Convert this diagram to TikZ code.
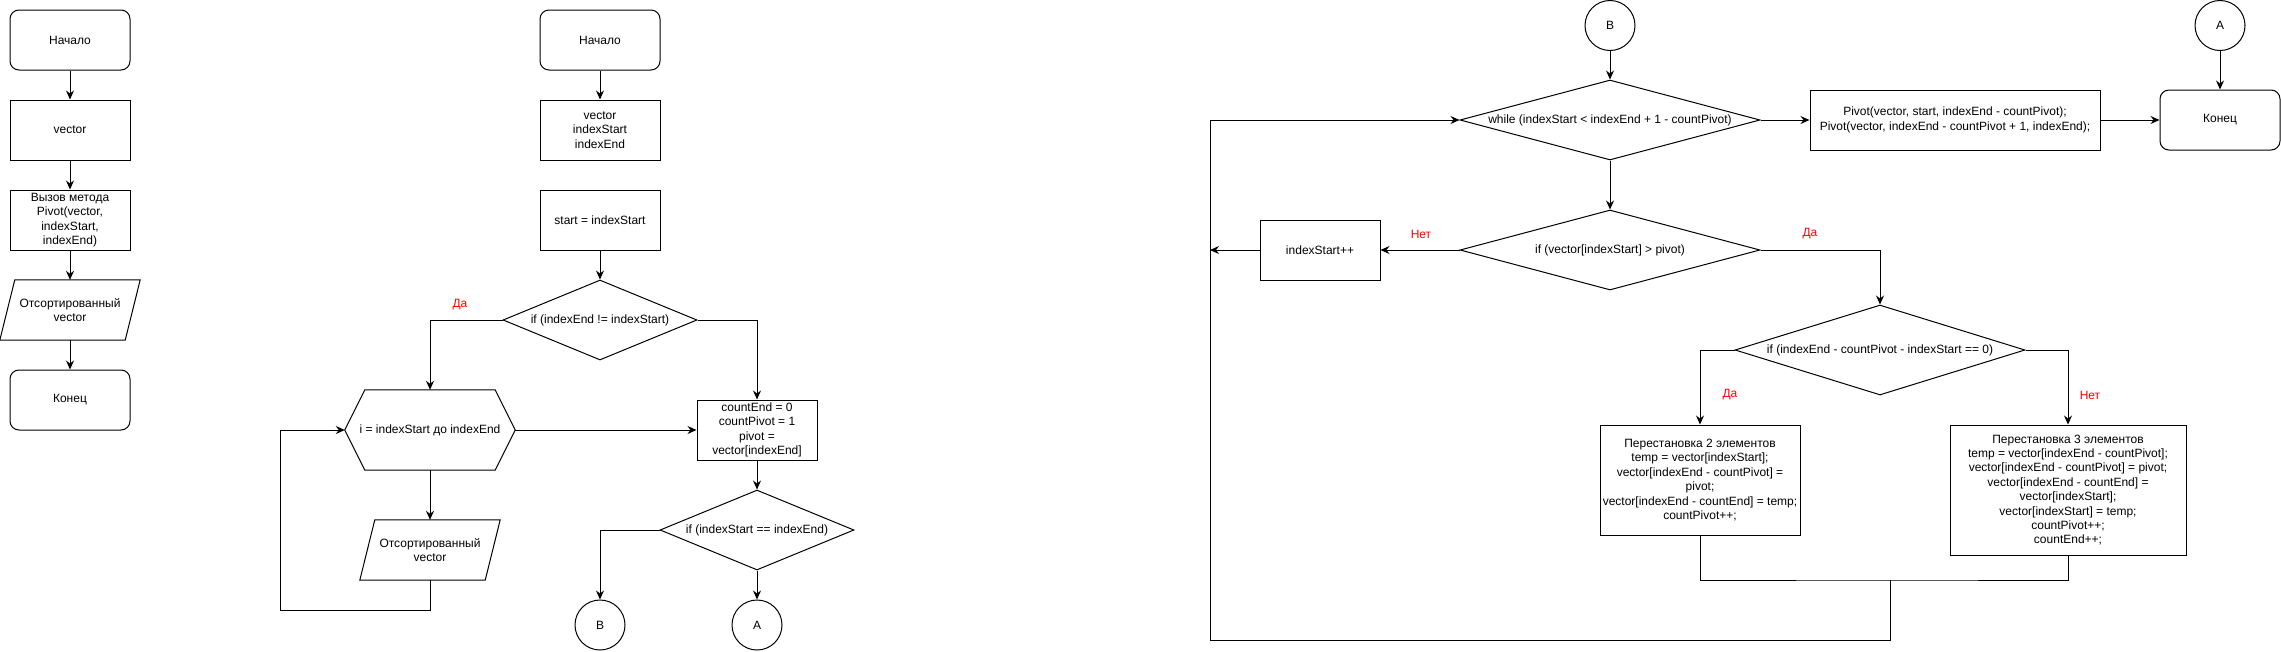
\documentclass[tikz,border=0pt]{standalone}
\usepackage{fontspec}
\setmainfont{Liberation Sans}
\usetikzlibrary{shapes.geometric,arrows.meta,calc}
\begin{document}
\begin{tikzpicture}[x=1pt,y=-1pt,
  every node/.style={font=\fontsize{12}{14.4}\selectfont, inner sep=0pt, align=center},
  term/.style={draw, rounded corners=9pt, minimum width=120pt, minimum height=60pt, line width=1pt},
  proc/.style={draw, minimum height=60pt, line width=1pt},
  dia/.style={draw, diamond, line width=1pt},
  conn/.style={draw, circle, minimum size=50pt, line width=1pt},
  frame/.style={minimum width=140pt, minimum height=60pt},
  arr/.style={-{Stealth[length=9pt,width=8pt,inset=3pt]}, line width=1pt},
  ln/.style={line width=1pt},
  yes/.style={text=red},
]
\useasboundingbox (0,0) rectangle (2281,651);

% ---------- left column ----------
\node[term] (s1) at (70,40) {Начало};
\node[proc, minimum width=120pt] (v1) at (70,130) {vector};
\node[proc, minimum width=120pt] (c1) at (70,220) {Вызов метода\\Pivot(vector,\\indexStart,\\indexEnd)};
\node[frame] (p1) at (70,310) {Отсортированный\\vector};
\draw[ln] ([xshift=15pt]p1.north west) -- (p1.north east) -- ([xshift=-15pt]p1.south east) -- (p1.south west) -- cycle;
\node[term] (e1) at (70,400) {Конец};

\draw[arr] (s1) -- (v1);
\draw[arr] (v1) -- (c1);
\draw[arr] (c1) -- (p1);
\draw[arr] (p1) -- (e1);

% ---------- middle column ----------
\node[term] (s2) at (600,40) {Начало};
\node[proc, minimum width=120pt] (v2) at (600,130) {vector\\indexStart\\indexEnd};
\node[proc, minimum width=120pt] (st) at (600,220) {start = indexStart};
\node[dia, minimum width=194pt, minimum height=80pt] (d1) at (600,320) {};
\node (d1t) at (d1) {if (indexEnd != indexStart)};
\node[minimum width=170pt, minimum height=80pt] (hx) at (430,430) {i = indexStart до indexEnd};
\draw[ln] (hx.west) -- ([xshift=20pt]hx.north west) -- ([xshift=-20pt]hx.north east) -- (hx.east) -- ([xshift=-20pt]hx.south east) -- ([xshift=20pt]hx.south west) -- cycle;
\node[frame] (p2) at (430,550) {Отсортированный\\vector};
\draw[ln] ([xshift=15pt]p2.north west) -- (p2.north east) -- ([xshift=-15pt]p2.south east) -- (p2.south west) -- cycle;
\node[proc, minimum width=120pt] (ce) at (757,430) {countEnd = 0\\countPivot = 1\\pivot =\\vector[indexEnd]};
\node[dia, minimum width=194pt, minimum height=80pt] (d2) at (757,530) {};
\node (d2t) at (d2) {if (indexStart == indexEnd)};
\node[conn] (cb) at (600,625) {B};
\node[conn] (ca) at (757,625) {A};
\node[yes] (l1) at (460,305) {Да};

\coordinate (lp) at (280,610);
\draw[arr] (s2) -- (v2);
\draw[arr] (st) -- (d1);
\draw[arr] (d1.west) -| (hx.north);
\draw[arr] (d1.east) -| (ce.north);
\draw[arr] (hx.south) -- (p2.north);
\draw[arr] (p2.south) |- (lp) |- (hx.west);
\draw[arr] (hx.east) -- (ce.west);
\draw[arr] (ce) -- (d2);
\draw[arr] (d2.west) -| (cb.north);
\draw[arr] (d2) -- (ca);

% ---------- right part ----------
\node[conn] (cb2) at (1610,25.5) {B};
\node[dia, minimum width=300pt, minimum height=80pt] (wh) at (1610,120) {};
\node (wht) at (wh) {while (indexStart < indexEnd + 1 - countPivot)};
\node[proc, minimum width=290pt] (pv) at (1955,120) {Pivot(vector, start, indexEnd - countPivot);\\Pivot(vector, indexEnd - countPivot + 1, indexEnd);};
\node[term] (e2) at (2220,120) {Конец};
\node[conn] (ca2) at (2220,25.5) {A};
\node[dia, minimum width=300pt, minimum height=80pt] (if1) at (1610,250) {};
\node (if1t) at (if1) {if (vector[indexStart] > pivot)};
\node[proc, minimum width=120pt] (inc) at (1320,250) {indexStart++};
\node[dia, minimum width=290pt, minimum height=90pt] (d3) at (1880,350) {};
\node (d3t) at (d3) {if (indexEnd - countPivot - indexStart == 0)};
\node[draw, line width=1pt, minimum width=200pt, minimum height=110pt] (b2) at (1700,480) {Перестановка 2 элементов\\temp = vector[indexStart];\\vector[indexEnd - countPivot] =\\pivot;\\vector[indexEnd - countEnd] = temp;\\countPivot++;};
\node[draw, line width=1pt, minimum width=236pt, minimum height=130pt] (b3) at (2068,490) {Перестановка 3 элементов\\temp = vector[indexEnd - countPivot];\\vector[indexEnd - countPivot] = pivot;\\vector[indexEnd - countEnd] =\\vector[indexStart];\\vector[indexStart] = temp;\\countPivot++;\\countEnd++;};

\node[yes] (l2) at (1421,234) {Нет};
\node[yes] (l3) at (1810,234) {Да};
\node[yes] (l4) at (1730,395) {Да};
\node[yes] (l5) at (2090,395) {Нет};

\coordinate (lx) at (1210,250);
\coordinate (jn) at (1890,580);
\coordinate (lb) at (1210,640);
\draw[arr] (cb2) -- (wh);
\draw[arr] (wh) -- (if1);
\draw[arr] (wh.east) -- (pv.west);
\draw[arr] (pv) -- (e2);
\draw[arr] (ca2) -- (e2);
\draw[arr] (if1.west) -- (inc.east);
\draw[arr] (inc.west) -- (lx);
\draw[arr] (if1.east) -| (d3.north);
\draw[arr] (d3.west) -| (b2.north);
\draw[arr] (d3.east) -| (b3.north);
\draw[ln] (b2.south) |- (jn) -| (b3.south);
\draw[arr] (jn) |- (lb) |- (wh.west);
\end{tikzpicture}
\end{document}
